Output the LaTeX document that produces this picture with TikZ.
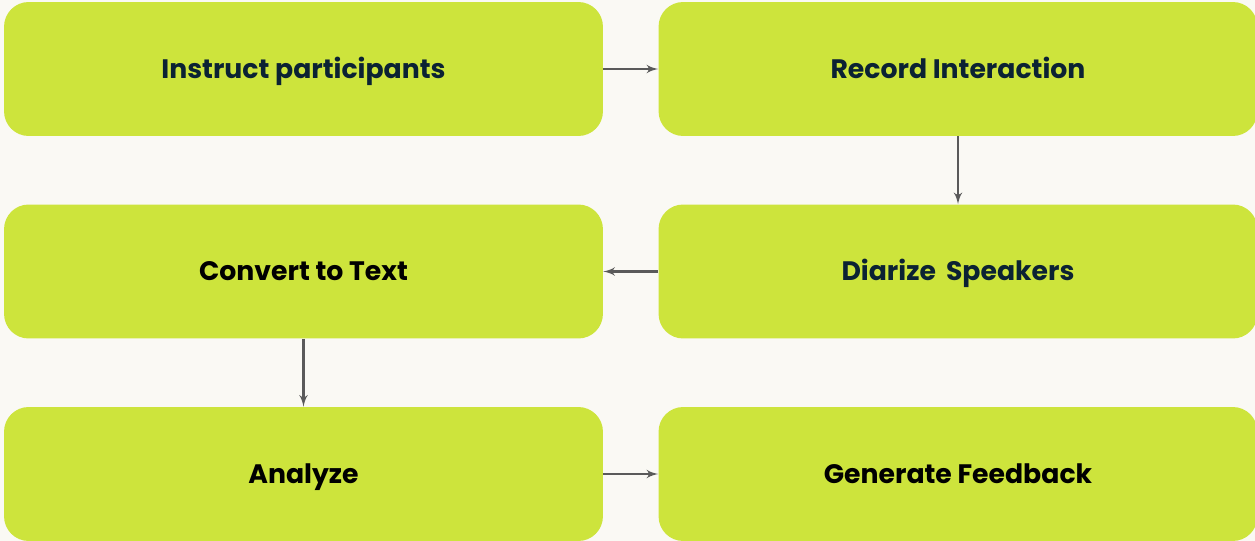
\documentclass[tikz,border=0pt]{standalone}
\usepackage{fontspec}
\setmainfont{Poppins}
\usepackage{tikz}
\usepackage{xcolor}
\usetikzlibrary{shapes}
\usetikzlibrary{arrows}
\definecolor{boxgreen}{HTML}{CDE43C}
\definecolor{paper}{HTML}{FAF9F4}
\definecolor{navy}{HTML}{0B2233}
\definecolor{arrowgray}{HTML}{5A5A5A}
\tikzset{
  font={\fontsize{15.2pt}{17}\selectfont\bfseries}}

\begin{document}
\begin{tikzpicture}[x=0.02cm, y=-0.02cm]

    \tikzset{edge/.style = {->, > = latex', draw=arrowgray, line width=1.3pt}}
    \tikzset{step box/.style = {rounded corners=14pt, fill=boxgreen, minimum width=11.98cm, minimum height=2.68cm, inner sep=0pt, text height=1.05em, text depth=0.02em}}

    % background
    \fill[paper] (0,0) rectangle (1255,541);
    \useasboundingbox (0,0) rectangle (1255,541);

    % vertices
    \node[step box, text=navy] (a) at (303.5,69) {Instruct participants};
    \node[step box, text=navy] (b) at (958,69) {Record Interaction};
    \node[step box, text=navy] (c) at (958,271.5) {Diarize\, Speakers};
    \node[step box, text=black] (d) at (303.5,271.5) {Convert to Text};
    \node[step box, text=black] (e) at (303.5,474) {Analyze};
    \node[step box, text=black] (f) at (958,474) {Generate Feedback};

    %edges
    \draw[edge] (a) to (b);
    \draw[edge] (b) to (c);
    \draw[edge] (c) to (d);
    \draw[edge] (d) to (e);
    \draw[edge] (e) to (f);

\end{tikzpicture}
\end{document}
